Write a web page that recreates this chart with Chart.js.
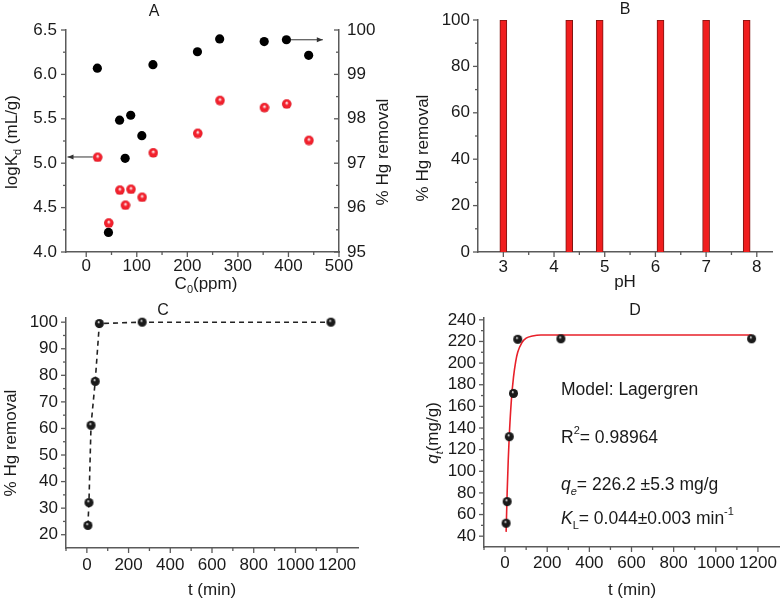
<!DOCTYPE html>
<html><head><meta charset="utf-8">
<script src="https://cdn.jsdelivr.net/npm/chart.js@4/dist/chart.umd.min.js"></script>
<style>
html,body{margin:0;padding:0;background:#fff;}
#wrap{position:relative;width:784px;height:604px;overflow:hidden;background:#fff;}
.p{position:absolute;}
canvas{display:block;}
</style></head><body>
<div id="wrap">
<div class="p" style="left:0;top:0"><canvas id="cA" width="392" height="300"></canvas></div>
<div class="p" style="left:392px;top:0"><canvas id="cB" width="392" height="300"></canvas></div>
<div class="p" style="left:0;top:300px"><canvas id="cC" width="392" height="304"></canvas></div>
<div class="p" style="left:392px;top:300px"><canvas id="cD" width="392" height="304"></canvas></div>
</div>
<script>
// ---------- data ----------
// Panel A
const concA    = [22, 44, 66, 77, 88, 110, 132, 220, 264, 352, 396, 440];
const logKdA   = [5.07, 4.33, 4.70, 4.53, 4.71, 4.62, 5.12, 5.34, 5.71, 5.63, 5.67, 5.26];
const removalA = [99.14, 95.44, 97.97, 97.11, 98.08, 97.62, 99.22, 99.51, 99.80, 99.74, 99.78, 99.43];
// Panel B
const phB      = [3.0, 4.3, 4.9, 6.1, 7.0, 7.8];
const removalB = [100, 100, 100, 100, 100, 100];
// Panel C
const timeC    = [5, 10, 20, 40, 60, 265, 1170];
const removalC = [23.5, 32.1, 61.2, 77.7, 99.5, 100, 100];
// Panel D
const timeD    = [5, 10, 20, 40, 60, 265, 1170];
const qtD      = [52, 72, 132, 172, 222, 222.5, 222.5];
const fitT     = [5, 10, 15, 20, 30, 40, 50, 60, 80, 100, 130, 170, 250, 400, 700, 1170];
const fitQ     = [44, 81, 110, 133, 166, 187, 201, 210, 219, 223, 225, 226, 226, 226, 226, 226];
// tick labels
const ticksAx  = [0, 100, 200, 300, 400, 500];
const ticksAy  = [4.0, 4.5, 5.0, 5.5, 6.0, 6.5];
const ticksAy2 = [95, 96, 97, 98, 99, 100];
const ticksBx  = [3, 4, 5, 6, 7, 8];
const ticksBy  = [0, 20, 40, 60, 80, 100];
const ticksTx  = [0, 200, 400, 600, 800, 1000, 1200];
const ticksCy  = [20, 30, 40, 50, 60, 70, 80, 90, 100];
const ticksDy  = [40, 60, 80, 100, 120, 140, 160, 180, 200, 220, 240];

// ---------- style helpers ----------
const FONT = '"Liberation Sans", Arial, Helvetica, sans-serif';
const TXT = '#1a1a1a';
const AX = '#5a5a5a';

function sphere(r, base, dark, hx, hy, stop) {
  const c = document.createElement('canvas');
  const s = 2 * r + 2; c.width = s; c.height = s;
  const g = c.getContext('2d');
  const cx = r + 1, cy = r + 1;
  const grad = g.createRadialGradient(cx + hx * r, cy + hy * r, r * 0.05, cx, cy, r);
  grad.addColorStop(0, '#ffffff');
  grad.addColorStop(stop, base);
  grad.addColorStop(0.85, base);
  grad.addColorStop(1, dark);
  g.fillStyle = grad;
  g.beginPath(); g.arc(cx, cy, r, 0, Math.PI * 2); g.fill();
  return c;
}
const redSphere = sphere(4.8, '#f2202c', '#c81420', 0.0, -0.25, 0.4);
const blackSphere = sphere(4.5, '#1a1a1a', '#000000', -0.2, -0.35, 0.3);

function hScale(min, max, major, pad, height, fmt) {
  return {
    type: 'linear', position: 'bottom', min, max, offset: false,
    grid: {display: false, drawTicks: false, offset: false},
    border: {display: true, color: AX, width: 1.5},
    ticks: {color: TXT, font: {family: FONT, size: 17}, padding: pad, autoSkip: false, maxRotation: 0, minRotation: 0,
            callback: fmt || (v => String(v))},
    afterBuildTicks: s => { s.ticks = major.map(v => ({value: v})); },
    afterFit: s => { s.height = height; }
  };
}
function vScale(pos, min, max, major, pad, width, fmt) {
  return {
    type: 'linear', position: pos, min, max,
    grid: {display: false, drawTicks: false},
    border: {display: true, color: AX, width: 1.5},
    ticks: {color: TXT, font: {family: FONT, size: 17}, padding: pad, autoSkip: false,
            callback: fmt || (v => String(v))},
    afterBuildTicks: s => { s.ticks = major.map(v => ({value: v})); },
    afterFit: s => { s.width = width; }
  };
}

function rich(ctx, segs, x, y, opt) {
  const size = opt.size || 17;
  const fontFor = s => (s.it ? 'italic ' : '') + ((s.sub || s.sup) ? Math.round(size * 0.62) : size) + 'px ' + FONT;
  let w = 0; const ws = [];
  segs.forEach(s => { ctx.font = fontFor(s); const m = ctx.measureText(s.t).width; ws.push(m); w += m; });
  ctx.save();
  ctx.translate(x, y);
  if (opt.rot) ctx.rotate(opt.rot);
  let cx = opt.align === 'left' ? 0 : -w / 2;
  ctx.fillStyle = TXT; ctx.textBaseline = 'middle'; ctx.textAlign = 'left';
  segs.forEach((s, i) => {
    ctx.font = fontFor(s);
    let dy = 0;
    if (s.sub) dy = size * 0.38;
    if (s.sup) dy = -size * 0.42;
    ctx.fillText(s.t, cx, dy);
    cx += ws[i];
  });
  ctx.restore();
}

function arrow(ctx, x1, y1, x2, y2) {
  ctx.save();
  ctx.strokeStyle = '#333'; ctx.fillStyle = '#333'; ctx.lineWidth = 1;
  ctx.beginPath(); ctx.moveTo(x1, y1); ctx.lineTo(x2, y2); ctx.stroke();
  const a = Math.atan2(y2 - y1, x2 - x1), L = 6, W = 2.5;
  ctx.beginPath();
  ctx.moveTo(x2, y2);
  ctx.lineTo(x2 - L * Math.cos(a) + W * Math.sin(a), y2 - L * Math.sin(a) - W * Math.cos(a));
  ctx.lineTo(x2 - L * Math.cos(a) - W * Math.sin(a), y2 - L * Math.sin(a) + W * Math.cos(a));
  ctx.closePath(); ctx.fill();
  ctx.restore();
}

const R90 = -Math.PI / 2;
// decoration config (minor ticks, titles, arrows) per canvas
const DECO = {
  cA: {
    ticks: [
      {id: 'x', dir: 1, minor: [50, 150, 250, 350, 450]},
      {id: 'y', dir: -1, minor: [4.25, 4.75, 5.25, 5.75, 6.25]},
      {id: 'y2', dir: -1, minor: [95.5, 96.5, 97.5, 98.5, 99.5]}
    ],
    texts: [
      {segs: [{t: 'A'}], x: 154, y: 12, size: 16},
      {segs: [{t: 'C'}, {t: '0', sub: true}, {t: '(ppm)'}], x: 206, y: 284},
      {segs: [{t: 'logK'}, {t: 'd', sub: true}, {t: ' (mL/g)'}], x: 12, y: 142, rot: R90},
      {segs: [{t: '% Hg removal'}], x: 383, y: 152, rot: R90}
    ],
    arrows: [
      {axis: 'y', from: [13, 5.07], to: [-37, 5.07]},
      {axis: 'y2', from: [405, 99.78], to: [468, 99.78]}
    ]
  },
  cB: {
    ticks: [
      {id: 'x', dir: 1, minor: [3.5, 4.5, 5.5, 6.5, 7.5]},
      {id: 'y', dir: -1, minor: [10, 30, 50, 70, 90]}
    ],
    texts: [
      {segs: [{t: 'B'}], x: 233, y: 10, size: 16},
      {segs: [{t: 'pH'}], x: 233, y: 282},
      {segs: [{t: '% Hg removal'}], x: 31, y: 148, rot: R90}
    ]
  },
  cC: {
    ticks: [
      {id: 'x', dir: 1, minor: [-100, 100, 300, 500, 700, 900, 1100]},
      {id: 'y', dir: -1, minor: [25, 35, 45, 55, 65, 75, 85, 95]}
    ],
    texts: [
      {segs: [{t: 'C'}], x: 163, y: 11, size: 16},
      {segs: [{t: 't (min)'}], x: 212, y: 290},
      {segs: [{t: '% Hg removal'}], x: 11, y: 143, rot: R90}
    ]
  },
  cD: {
    ticks: [
      {id: 'x', dir: 1, minor: [-100, 100, 300, 500, 700, 900, 1100]},
      {id: 'y', dir: -1, minor: [50, 70, 90, 110, 130, 150, 170, 190, 210, 230]}
    ],
    texts: [
      {segs: [{t: 'D'}], x: 243, y: 11, size: 16},
      {segs: [{t: 't (min)'}], x: 240, y: 290},
      {segs: [{t: 'q', it: true}, {t: 't', it: true, sub: true}, {t: '(mg/g)'}], x: 41, y: 133, rot: R90},
      {segs: [{t: 'Model: Lagergren'}], x: 169, y: 90, align: 'left', size: 17.5},
      {segs: [{t: 'R'}, {t: '2', sup: true}, {t: '= 0.98964'}], x: 169, y: 138, align: 'left', size: 17.5},
      {segs: [{t: 'q', it: true}, {t: 'e', it: true, sub: true}, {t: '= 226.2 \u00b15.3 mg/g'}], x: 169, y: 185, align: 'left', size: 17.5},
      {segs: [{t: 'K', it: true}, {t: 'L', sub: true}, {t: '= 0.044\u00b10.003 min'}, {t: '-1', sup: true}], x: 169, y: 219, align: 'left', size: 17.5}
    ]
  }
};

const deco = {
  id: 'deco',
  afterDraw(chart) {
    const cfg = DECO[chart.canvas.id];
    if (!cfg) return;
    const ctx = chart.ctx;
    ctx.save();
    ctx.strokeStyle = AX; ctx.lineWidth = 1.3;
    cfg.ticks.forEach(t => {
      const s = chart.scales[t.id];
      const draw = (vals, len) => vals.forEach(v => {
        const p = s.getPixelForValue(v);
        ctx.beginPath();
        if (s.isHorizontal()) {
          ctx.moveTo(p, s.top); ctx.lineTo(p, s.top + len * t.dir);
        } else {
          const x = s.position === 'left' ? s.right : s.left;
          ctx.moveTo(x, p); ctx.lineTo(x + len * t.dir, p);
        }
        ctx.stroke();
      });
      draw(s.ticks.map(k => k.value), 5);
      draw(t.minor, 3);
    });
    (cfg.arrows || []).forEach(a => {
      const xs = chart.scales.x, ys = chart.scales[a.axis];
      arrow(ctx, xs.getPixelForValue(a.from[0]), ys.getPixelForValue(a.from[1]),
                 xs.getPixelForValue(a.to[0]), ys.getPixelForValue(a.to[1]));
    });
    cfg.texts.forEach(tx => rich(ctx, tx.segs, tx.x, tx.y, tx));
    ctx.restore();
  }
};

const base = (padding) => ({
  responsive: false, animation: false, events: [],
  layout: {padding, autoPadding: false},
  plugins: {legend: {display: false}, tooltip: {enabled: false}, title: {display: false}}
});

// ---------- Panel A ----------
new Chart(document.getElementById('cA'), {
  type: 'scatter',
  data: {datasets: [
    {data: concA.map((x, i) => ({x, y: logKdA[i]})), yAxisID: 'y', pointStyle: redSphere, pointRadius: 4.8, clip: false},
    {data: concA.map((x, i) => ({x, y: removalA[i]})), yAxisID: 'y2', pointStyle: 'circle', pointRadius: 4.6,
     backgroundColor: '#000', borderColor: '#000', borderWidth: 0, clip: false}
  ]},
  options: Object.assign(base({top: 30, right: 0, bottom: 0, left: 0}), {
    scales: {
      x: hScale(-40, 500, ticksAx, 4, 48),
      y: vScale('left', 4, 6.5, ticksAy, 9, 66, v => v.toFixed(1)),
      y2: vScale('right', 95, 100, ticksAy2, 8, 53)
    }
  }),
  plugins: [deco]
});

// ---------- Panel B ----------
new Chart(document.getElementById('cB'), {
  type: 'bar',
  data: {datasets: [
    {data: phB.map((x, i) => ({x, y: removalB[i]})), backgroundColor: '#f01e1e', borderColor: '#7a1512',
     borderWidth: 1, barThickness: 7, borderSkipped: 'bottom'}
  ]},
  options: Object.assign(base({top: 20, right: 12, bottom: 0, left: 0}), {
    scales: {
      x: hScale(2.5, 8.3, ticksBx, 5, 48),
      y: vScale('left', 0, 100, ticksBy, 8, 86)
    }
  }),
  plugins: [deco]
});

// ---------- Panel C ----------
new Chart(document.getElementById('cC'), {
  type: 'scatter',
  data: {datasets: [
    {data: timeC.map((x, i) => ({x, y: removalC[i]})), showLine: true, borderColor: '#222', borderWidth: 1.6,
     borderDash: [5, 4], pointStyle: blackSphere, pointRadius: 4.5, tension: 0, clip: false}
  ]},
  options: Object.assign(base({top: 18, right: 34, bottom: 0, left: 0}), {
    scales: {
      x: hScale(-100, 1300, ticksTx, 7, 56),
      y: vScale('left', 15, 101.5, ticksCy, 8, 66)
    }
  }),
  plugins: [deco]
});

// ---------- Panel D ----------
new Chart(document.getElementById('cD'), {
  type: 'scatter',
  data: {datasets: [
    {data: timeD.map((x, i) => ({x, y: qtD[i]})), pointStyle: blackSphere, pointRadius: 4.5, clip: false, order: 0},
    {data: fitT.map((x, i) => ({x, y: fitQ[i]})), showLine: true, borderColor: '#e8202a', borderWidth: 1.6,
     pointRadius: 0, cubicInterpolationMode: 'monotone', order: 1}
  ]},
  options: Object.assign(base({top: 15, right: 5, bottom: 0, left: 0}), {
    scales: {
      x: hScale(-100, 1300, ticksTx, 6, 57),
      y: vScale('left', 30, 241.5, ticksDy, 8, 92)
    }
  }),
  plugins: [deco]
});
</script>
</body></html>
